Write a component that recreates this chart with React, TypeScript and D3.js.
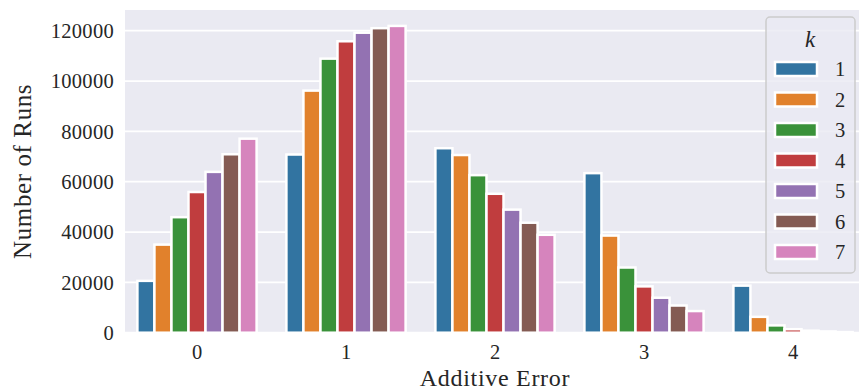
import React from "react";
import * as d3 from "d3";

const categories = ["0", "1", "2", "3", "4"];
const kLabels = ["1", "2", "3", "4", "5", "6", "7"];
const series: number[][] = [
  [20600, 70800, 73300, 63400, 18700],
  [35000, 96200, 70600, 38600, 6300],
  [45900, 108900, 62600, 25900, 2900],
  [55900, 115800, 55200, 18400, 1400],
  [63900, 119200, 48900, 13900, 800],
  [70900, 121000, 43700, 10800, 500],
  [77100, 121900, 38900, 8600, 250],
];
const yTicks = [0, 20000, 40000, 60000, 80000, 100000, 120000];
const colors = ["#3274a1", "#e1812c", "#3a923a", "#c03d3e", "#9372b2", "#845b53", "#d684bd"];

const W = 859;
const H = 392;
const plotLeft = 125;
const plotTop = 10;
const plotBottom = 332.7;
const font = "'Liberation Serif', 'DejaVu Serif', serif";
const textColor = "#262626";

export default function App() {
  const x = d3.scaleBand<string>().domain(categories).range([122.5, 867.5]).paddingInner(0).paddingOuter(0);
  const step = x.bandwidth();
  const inner = d3.scaleBand<string>().domain(kLabels).range([-0.4 * step, 0.4 * step]);
  const y = d3.scaleLinear().domain([0, 120000]).range([plotBottom, 30.7]);

  return (
    <svg width={W} height={H} style={{ position: "absolute", left: 0, top: 0 }} fontFamily={font}>
      <rect x={plotLeft} y={plotTop} width={W - plotLeft} height={plotBottom - plotTop} fill="#eaeaf2" />
      {yTicks.map((t) => (
        <line key={"g" + t} x1={plotLeft} x2={W} y1={y(t)} y2={y(t)} stroke="#ffffff" strokeWidth={1.8} />
      ))}
      {yTicks.map((t) => (
        <text key={"yl" + t} x={114} y={y(t)} dy="0.35em" textAnchor="end" fontSize={20.5} letterSpacing={0.3} fill={textColor}>
          {t}
        </text>
      ))}
      {categories.map((c) => (
        <text key={"xl" + c} x={(x(c) as number) + step / 2} y={352} dy="0.35em" textAnchor="middle" fontSize={20.5} fill={textColor}>
          {c}
        </text>
      ))}
      {series.map((vals, k) =>
        vals.map((v, i) => {
          const cx = (x(categories[i]) as number) + step / 2 + (inner(kLabels[k]) as number);
          return (
            <rect
              key={`b${k}-${i}`}
              x={cx}
              y={y(v)}
              width={inner.bandwidth()}
              height={plotBottom - y(v)}
              fill={colors[k]}
              stroke="#ffffff"
              strokeWidth={2.5}
            />
          );
        })
      )}
      <text x={495} y={386} textAnchor="middle" fontSize={24} letterSpacing={0.7} fill={textColor}>
        Additive Error
      </text>
      <text
        transform={`translate(22,${(plotTop + plotBottom) / 2}) rotate(-90)`}
        dy="0.35em"
        textAnchor="middle"
        fontSize={25}
        letterSpacing={0.6}
        fill={textColor}
      >
        Number of Runs
      </text>
      <g>
        <rect x={766} y={17} width={89} height={256} rx={4} fill="#eaeaf2" fillOpacity={0.8} stroke="#cccccc" strokeWidth={1.5} />
        <text x={810} y={39} dy="0.35em" textAnchor="middle" fontSize={23} fontStyle="italic" fill={textColor}>
          k
        </text>
        {kLabels.map((l, k) => {
          const cy = 69 + k * 30.5;
          return (
            <g key={"lg" + l}>
              <rect x={775} y={cy - 7} width={42} height={14} fill={colors[k]} stroke="#ffffff" strokeWidth={2.5} />
              <text x={835} y={cy} dy="0.35em" textAnchor="start" fontSize={20.5} fill={textColor}>
                {l}
              </text>
            </g>
          );
        })}
      </g>
    </svg>
  );
}
